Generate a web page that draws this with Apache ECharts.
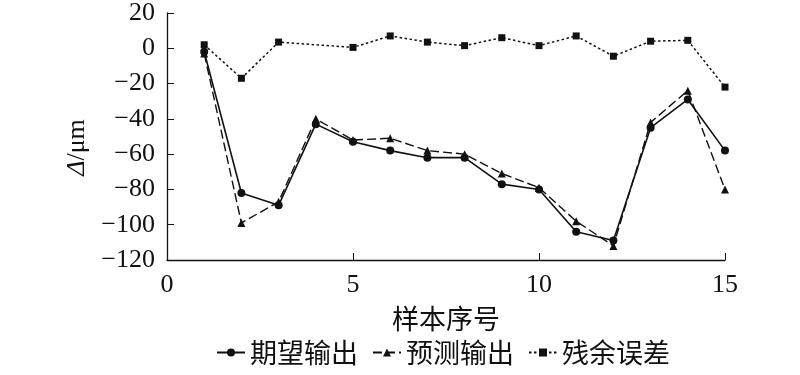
<!DOCTYPE html>
<html><head><meta charset="utf-8">
<script src="https://cdn.jsdelivr.net/npm/echarts@6/dist/echarts.min.js"></script>
<style>html,body{margin:0;padding:0;background:#fff}#c{width:800px;height:375px}</style>
</head><body><div id="c"></div>
<script>
const seriesNames = ['期望输出', '预测输出', '残余误差'];
const xExpected = [1,2,3,4,5,6,7,8,9,10,11,12,13,14,15];
const expected = [-2,-82,-89,-43,-53,-58,-62,-62,-77,-80,-104,-109,-45,-29,-58];
const xPredicted = [1,2,3,4,5,6,7,8,9,10,11,12,13,14,15];
const predicted = [-3,-99,-87,-40,-52,-51,-58,-60,-71,-79,-98,-112,-42,-24,-80];
const xResidual = [1,2,3,5,6,7,8,9,10,11,12,13,14,15];
const residual = [2,-17,3.5,0.5,7,3.5,1.5,6,1.5,7,-4.5,4,4.5,-22];
const xTicks = [0,5,10,15];
const yTicks = [-120,-100,-80,-60,-40,-20,0,20];

const pairs = (xs, ys) => xs.map((x, i) => [x, ys[i]]);
const serif = "'Liberation Serif', 'Times New Roman', serif";
const cjk = "'Noto Sans CJK SC', sans-serif";
const minus = v => String(v).replace('-', '\u2212');

const chart = echarts.init(document.getElementById('c'), null, {renderer: 'canvas'});
chart.setOption({
  animation: false,
  backgroundColor: '#fff',
  grid: {left: 167, right: 75, top: 13, bottom: 115},
  legend: {
    top: 339, left: 216, padding: 0, itemWidth: 28, itemHeight: 10, itemGap: 14,
    textStyle: {fontFamily: cjk, fontSize: 27, fontWeight: 'normal', color: '#111'},
    data: seriesNames.map(n => ({name: n}))
  },
  xAxis: {
    type: 'value', min: xTicks[0], max: xTicks[xTicks.length-1], interval: 5,
    name: '样本序号', nameLocation: 'middle', nameGap: 45,
    nameTextStyle: {fontFamily: cjk, fontSize: 27, color: '#111'},
    axisLine: {onZero: false, lineStyle: {color: '#111', width: 1.3}},
    axisTick: {inside: true, length: 7, lineStyle: {color: '#111'}},
    axisLabel: {fontFamily: serif, fontSize: 26, color: '#111', margin: 12},
    splitLine: {show: false}
  },
  yAxis: {
    type: 'value', min: yTicks[0], max: yTicks[yTicks.length-1], interval: 20,
    name: '{i|Δ}/μm', nameLocation: 'middle', nameGap: 76, nameRotate: 90,
    nameTextStyle: {fontFamily: serif, fontSize: 26, color: '#111', padding: [0, 22, 0, 0],
      rich: {i: {fontFamily: serif, fontStyle: 'italic', fontSize: 26, color: '#111'}}},
    axisLine: {show: true, onZero: false, lineStyle: {color: '#111', width: 1.3}},
    axisTick: {show: true, inside: true, length: 7, lineStyle: {color: '#111'}},
    axisLabel: {fontFamily: serif, fontSize: 26, color: '#111', margin: 12, formatter: minus},
    splitLine: {show: false}
  },
  series: [
    {name: seriesNames[0], type: 'line', data: pairs(xExpected, expected),
     symbol: 'circle', symbolSize: 8, itemStyle: {color: '#111'},
     lineStyle: {color: '#111', width: 1.6, type: 'solid'}},
    {name: seriesNames[1], type: 'line', data: pairs(xPredicted, predicted),
     symbol: 'triangle', symbolSize: 8, itemStyle: {color: '#111'},
     lineStyle: {color: '#111', width: 1.4, type: [9, 4]}},
    {name: seriesNames[2], type: 'line', data: pairs(xResidual, residual),
     symbol: 'rect', symbolSize: 7, itemStyle: {color: '#111'},
     lineStyle: {color: '#111', width: 1.5, type: [2.5, 2.5]}}
  ]
});
</script></body></html>
